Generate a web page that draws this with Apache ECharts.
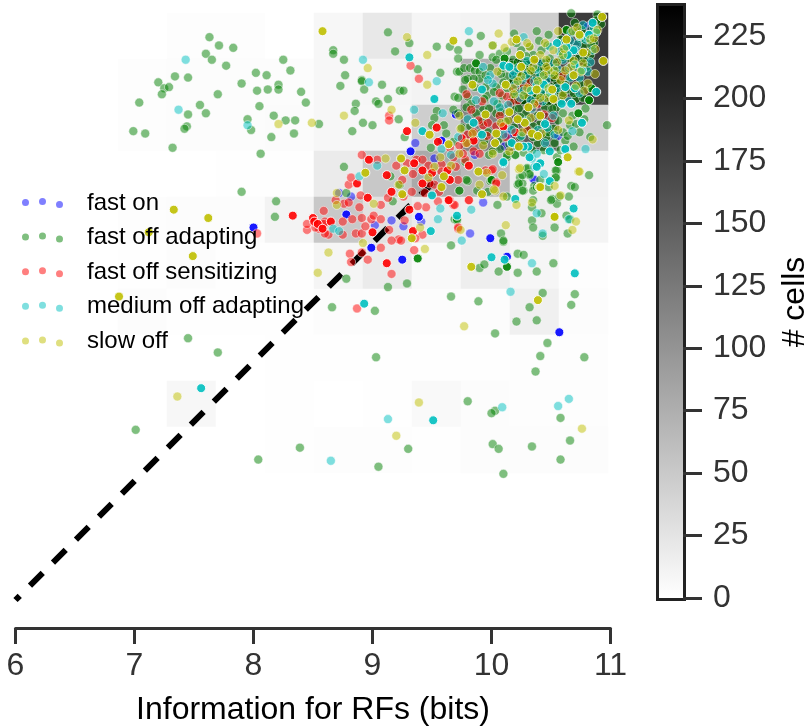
<!DOCTYPE html>
<html><head><meta charset="utf-8">
<style>html,body{margin:0;padding:0;background:#fff}#c{width:807px;height:727px}</style>
<script src="https://cdn.jsdelivr.net/npm/echarts@6/dist/echarts.min.js"></script>
</head><body><div id="c"></div>
<script>
const typeNames = ['fast on','fast off adapting','fast off sensitizing','medium off adapting','slow off'];
const typeColors = ['#0000ff','#008000','#ff0000','#00bfbf','#bfbf00'];
const xTicks = [6,7,8,9,10,11];
const colorbarMax = 237;
// 2D histogram counts, top row first, left column first
const histCounts = [
 [0,2,2,0,7,21,9,11,46,181],
 [2,3,3,3,7,8,11,74,228,172],
 [2,3,3,4,7,7,46,116,150,42],
 [0,0,1,1,19,51,79,65,16,11],
 [2,3,3,11,51,28,19,16,16,10],
 [1,3,1,1,9,19,6,16,8,2],
 [3,1,1,1,3,3,3,3,14,3],
 [0,0,0,1,1,1,1,1,2,2],
 [0,7,0,1,0,1,6,3,2,2],
 [0,0,0,1,2,2,1,3,3,3]
];
const identity = [[6,6],[9.53,9.53]];
const fastOnLight = [[9.36,9.84],[8.82,9.39],[8.72,9.42],[9.02,9.15],[9.93,9.34],[9.41,9.18],[10.14,9.91],[10.46,10.06],[10.56,9.90],[10.35,9.54],[10.81,10.82],[9.82,9.08],[9.52,9.71],[9.86,9.74],[10.11,9.81],[9.26,9.14],[9.16,9.19],[10.36,9.53]];
const fastOnSolid = [[8.00,9.13],[9.25,8.86],[8.99,8.96],[10.57,8.25],[10.13,8.885],[9.58,9.86],[9.32,9.77],[9.70,10.08],[8.78,9.24],[9.39,9.22],[9.99,9.04]];
const adaptLight = [[7.63,10.73],[7.71,10.66],[7.83,10.64],[7.60,10.59],[7.65,10.54],[7.77,10.49],[8.25,10.54],[8.31,10.45],[7.34,10.40],[7.45,10.39],[7.20,10.35],[7.90,10.34],[8.02,10.43],[8.11,10.41],[8.21,10.33],[8.21,10.29],[8.12,10.29],[8.03,10.28],[7.25,10.30],[7.29,10.31],[7.23,10.25],[7.70,10.25],[8.40,10.27],[8.44,10.18],[7.04,10.18],[7.55,10.16],[8.05,10.15],[7.60,10.09],[7.45,10.08],[8.17,10.07],[7.95,10.04],[8.27,10.03],[8.35,10.03],[7.98,9.95],[7.44,9.98],[7.42,9.96],[6.99,9.94],[7.09,9.92],[8.34,9.92],[8.15,9.89],[7.32,9.80],[8.06,9.75],[8.55,10.00],[7.90,9.43],[8.19,9.35],[8.18,9.22],
[7.45,8.20],[7.70,8.08],[7.01,7.43],[8.04,7.18],[8.39,7.28],
[8.78,8.70],[8.66,8.46],[9.02,8.43],[9.13,8.63],[9.29,8.66],[9.66,8.98],[10.10,9.01],[9.90,8.79],[9.94,8.82],[10.06,8.76],[10.22,8.91],[10.27,8.90],[10.22,8.75],[10.38,8.76],[10.52,8.83],[9.66,8.55],[9.89,8.51],[10.43,8.58],[10.70,8.57],[10.67,8.48],[10.32,8.46],[10.21,8.34],[10.38,8.35],[10.03,8.24],[10.47,8.16],[10.41,8.05],[10.78,8.04],[10.37,7.92],[9.03,8.04],[9.80,7.67],[10.03,7.59],[10.00,7.57],[10.58,7.53],[10.66,7.34],[10.01,7.31],[10.06,7.27],[10.34,7.29],[10.58,7.18],[9.30,7.27],[9.05,7.12],[10.10,7.06],
[9.13,10.77],[9.31,10.68],[8.67,10.62],[8.67,10.59],[8.76,10.54],[9.19,10.61],[9.54,10.65],[9.65,10.65],[9.72,10.62],[9.81,10.68],[9.91,10.74],[10.01,10.66],[9.90,10.58],[9.72,10.55],[10.19,10.76],[10.38,10.78],[10.48,10.75],[10.67,10.93],[10.89,10.92],[9.38,10.46],[9.57,10.43],[8.77,10.41],[8.91,10.37],[8.91,10.36],[8.73,10.32],[9.08,10.33],[8.93,10.29],[9.23,10.28],[9.26,10.28],[9.13,10.21],[9.03,10.19],[9.05,10.17],[8.86,10.17],[8.85,10.11],[9.22,10.04],[8.92,10.01],[9.00,9.99],[8.83,9.94],[9.27,9.89],[9.60,9.99],[9.54,10.11],[9.52,10.05],[9.50,9.99],[9.68,10.12],[9.69,10.23],[9.72,10.22],[9.49,9.80],[8.76,9.64],[8.78,9.42],[10.97,9.99],[10.82,9.57],[10.83,9.89],
[10.67,9.48],[10.70,9.47],[10.65,9.39],[10.51,9.37],[10.55,9.33],[10.34,9.19],[10.35,9.13],[10.53,9.13],[10.63,9.23],[10.66,9.20],[10.64,9.08],[10.42,9.25],[10.35,9.36],[10.34,9.30],[10.43,9.06],[10.08,9.08],[10.10,9.02],[10.05,9.32],[10.13,9.39],[10.24,9.55],[10.22,9.49],[10.27,9.44],[10.32,9.57],[10.30,9.62],[10.36,9.48],[10.26,9.50],[10.41,9.53],[10.55,9.61],[10.54,9.55],[10.48,9.47],[10.57,9.39],[9.73,9.44],[9.80,9.52],[9.88,9.44],[9.99,9.52],[9.78,9.68],[9.98,9.74],[10.13,9.72],[10.20,9.74],[9.69,9.20],[9.71,9.19],
[9.71,10.44],[9.73,10.44],[9.77,10.47],[9.82,10.47],[9.86,10.45],[9.90,10.44],[9.90,10.38],[9.80,10.38],[9.78,10.37],[9.86,10.31],[9.80,10.23],[9.83,10.17],[9.79,10.14],[9.93,10.12],[10.01,10.56],[10.07,10.59],[10.04,10.54],[10.13,10.61],[10.18,10.54],[10.25,10.62],[10.35,10.58],[10.42,10.62],[10.49,10.55],[10.32,10.65],[10.21,10.68],[10.71,10.77],[10.86,10.68],[10.80,10.48],[10.63,10.40],[10.57,10.42],[10.55,10.34],[10.60,10.26],[10.71,10.21],[10.42,10.44],[10.29,10.44],[10.21,10.38],[10.13,10.40],[10.08,10.42],[10.04,10.31],[10.13,10.30],[10.18,10.23],[10.27,10.20],[10.45,10.14],[10.55,10.14],[10.46,10.06],[10.60,10.09],[10.66,9.99],[10.71,10.00],[10.60,9.93],[10.52,9.96],[10.41,10.00],[10.46,9.89],[10.39,9.84],[10.53,9.84],[10.62,9.86],[10.69,9.81],[10.55,9.72],[10.35,9.89],[10.24,9.89],[10.13,9.74],[10.20,9.74],[10.07,9.79],[10.01,9.77],[9.94,9.86],[10.04,10.09],[9.90,9.92],[10.35,9.98],[10.29,10.09],[9.96,10.24],[10.18,10.12],[10.24,10.06],
[10.30,9.63],[10.32,9.58],[10.26,9.57],[10.23,9.50],[10.26,9.44],[10.35,9.44],[10.38,9.47],[10.54,9.61],[10.54,9.55],[10.50,9.36],[9.73,9.44],[9.79,9.53],[9.97,9.43],[9.15,9.56],[9.17,9.35],[9.23,9.49],[9.71,9.20],
[10.09,10.47],[10.16,10.47],[10.23,10.43],[10.31,10.51],[10.38,10.39],[10.45,10.51],[10.52,10.47],[10.59,10.56],[10.66,10.63],[10.73,10.55],[10.83,10.58],[10.78,10.66],[10.92,10.84],[10.84,10.79],[10.58,10.71],[10.47,10.66],[10.40,10.70],[10.29,10.57],[10.17,10.35],[10.26,10.33],[10.34,10.30],[10.42,10.25],[10.50,10.31],[10.58,10.19],[10.64,10.29],[10.75,10.33],[10.79,10.13],[10.68,10.07],[10.51,10.13],[10.39,10.07],[10.31,9.95],[10.19,9.97],[10.12,10.02],[10.05,10.17],[9.98,10.13],[9.92,10.02],[9.97,9.93],[10.06,9.87],[10.15,9.83],[10.27,9.76],[10.34,9.78],[10.44,9.78],[10.58,9.78],[10.48,9.93],[10.56,10.03],[10.64,9.90],[10.74,9.93],[10.78,10.04],[9.85,10.38],[9.95,10.31],[10.10,10.35],[9.76,10.29],[9.72,10.09],[9.62,9.92],[9.68,9.85],[9.75,9.97],[9.82,9.98],[10.09,10.24],[10.37,10.21],[10.23,10.13],
[10.18,10.50],[10.22,10.52],[10.28,10.48],[10.34,10.44],[10.40,10.47],[10.46,10.42],[10.52,10.39],[10.54,10.27],[10.48,10.19],[10.40,10.30],[10.31,10.38],[10.24,10.29],[10.19,10.20],[10.30,10.24],[10.44,10.34],[10.37,10.26],[10.53,10.22],[10.26,10.50],[10.41,10.36],
[10.60,10.60],[10.66,10.55],[10.72,10.47],[10.78,10.55],[10.84,10.66],[10.75,10.72],[10.88,10.87],[10.70,10.85],[10.76,10.79],[10.62,10.33],[10.69,10.26],[10.77,10.22],
[9.99,10.47],[9.95,10.41],[10.02,10.27],[9.87,10.09],[9.94,10.21],[10.08,10.10]];
const adaptSolid = [[9.38,8.87],[10.13,8.80],[9.87,10.51],[10.11,10.55],[10.63,10.79],[10.84,10.30],[10.82,10.20],[10.73,10.09],[10.56,9.68],[10.00,9.53]];
const sensLight = [[8.03,9.08],[8.81,8.91],[8.91,8.92],[8.96,8.86],[8.82,8.84],[9.07,8.96],[9.35,8.94],[9.16,8.74],[8.87,8.45],
[8.45,9.11],[8.45,9.16],[8.55,9.12],[8.52,9.13],[8.59,9.27],[8.60,9.18],[8.59,9.16],[8.63,9.07],[8.60,9.08],[8.75,9.18],[8.75,9.07],[8.76,9.33],[8.80,9.34],[8.83,9.20],[8.91,9.21],[8.86,9.08],[8.91,9.08],[8.99,9.20],[9.01,9.23],[9.07,9.20],[8.94,9.14],[8.90,9.40],[8.80,9.49],[8.82,9.55],[8.91,9.74],[9.04,9.70],[9.13,9.38],[9.20,9.65],
[9.37,9.70],[9.42,9.70],[9.47,9.65],[9.34,9.58],[9.52,9.49],[9.72,9.53],[9.78,9.70],[9.85,9.77],[9.79,9.84],[9.85,9.93],[9.93,9.99],[9.97,10.01],[9.76,9.75],[9.39,10.38],[9.32,10.49],[9.14,10.07],[9.14,10.03],[9.79,10.25],[9.83,10.12],[9.92,10.19],[10.04,9.51],[9.95,9.61],[10.00,9.61],[9.68,9.32],[9.81,9.36],[9.72,9.12],[9.55,9.35],[9.45,9.30],[9.38,9.31],[9.26,9.39],[9.14,9.11],[9.22,9.03],[9.16,9.02],[9.24,9.02],[9.42,9.07],[9.36,9.04],[9.27,9.19],
[10.13,10.23],[10.07,10.26],[10.20,10.30],[10.32,10.35],[10.39,10.17],[10.22,10.20],[10.35,10.14],[10.51,10.05],[10.66,10.48],[10.60,10.40],[10.07,10.07],[10.04,9.98],[10.01,9.62],[10.04,9.50],[9.81,9.36],[9.72,9.13],[9.69,9.32],[9.65,9.36],
[10.27,10.32],[10.16,10.18],[10.44,10.08],[10.30,9.95],[10.12,9.89],[9.96,9.90],[9.89,10.03],[9.90,9.75],[9.68,9.72],[9.58,9.66],[9.48,9.50],[9.58,9.60],[9.70,9.64],[9.73,9.82],[9.80,9.91],[9.65,9.80],[9.29,9.67],[9.25,9.53],[9.33,9.43],[9.07,9.32],[8.89,9.30],[8.69,9.36],[9.44,9.42],[9.56,9.43]];
const sensSolid = [[8.33,9.23],[9.12,8.83],[8.50,9.21],[8.51,9.18],[8.54,9.16],[8.58,9.12],[8.65,9.18],[9.00,9.09],[8.96,9.38],[8.87,9.50],[8.97,9.70],[9.12,9.57],[9.16,9.43],[9.35,9.67],[9.42,9.61],[9.50,9.59],[9.42,9.50],[9.63,9.61],[9.65,9.53],[9.81,9.65],[9.85,9.86],[9.75,9.88],[10.10,9.98],[10.20,9.93],[9.54,9.97],[9.29,9.94],[9.55,9.85],[9.64,9.36],[9.31,9.28],[9.34,9.10]];
const mediumLight = [[7.43,10.54],[7.37,10.12],[7.95,9.99],[10.34,8.83],[10.16,8.59],[10.09,7.62],[10.56,7.63],[10.65,7.69],[9.13,7.52],[8.65,7.17],[9.75,9.02],[9.81,10.78],[10.27,10.73],[8.92,10.54],[8.97,10.35],[9.54,10.36],[9.35,10.12],[9.59,10.09],[10.79,9.79],[9.83,9.28],[10.76,10.01],[10.62,9.78],[10.48,9.52],[10.65,9.20],[10.38,9.25],[10.43,9.08],[10.41,9.67],[10.36,9.64],[10.34,9.71],[10.22,9.81],[9.04,9.65],[8.89,9.56],[10.52,10.51],[10.01,10.34],[9.99,10.41],[9.87,10.20],[10.07,10.14],[9.55,9.20],[9.57,9.29],[8.67,9.12],[8.72,9.10],
[10.19,10.44],[10.26,10.37],[10.36,10.36],[10.41,10.41],[10.47,10.31],[10.55,10.47],[10.60,10.54],[10.66,10.39],[10.74,10.39],[10.81,10.44],[10.85,10.62],[10.79,10.71],[10.72,10.67],[10.66,10.70],[10.57,10.61],[10.49,10.65],[10.42,10.52],[10.30,10.53],[10.34,10.13],[10.43,10.19],[10.52,10.07],[10.47,9.97],[10.39,9.95],[10.30,10.03],[10.21,10.26],[10.14,10.16],[10.02,10.19],[9.97,10.37],[9.93,10.48],[10.10,9.91],[10.17,9.95],[10.25,9.90],[10.38,9.75],[10.45,9.84],[10.53,9.91],[10.68,9.94],[10.44,9.58],[9.72,9.89],[9.80,10.04],[9.66,9.74],[9.58,9.79],
[10.20,10.33],[10.29,10.41],[10.37,10.46],[10.46,10.37],[10.50,10.43],[10.55,10.30],[10.43,10.27],[10.33,10.20],[10.24,10.22],[10.18,10.41],[10.27,10.28],[10.38,10.33],[10.51,10.24],[10.22,10.47],
[10.65,10.47],[10.71,10.62],[10.77,10.83],[10.81,10.72],[10.67,10.77],[10.60,10.68],[10.83,10.52],[10.74,10.26],[10.65,10.19],[10.86,10.81]];
const mediumSolid = [[7.56,7.78],[10.00,8.88],[10.11,8.86],[10.70,8.745],[8.93,8.49],[9.51,7.51],[10.10,9.67],[10.20,9.37],[10.69,9.29],[10.88,10.77],[10.85,10.85],[10.82,10.75],[10.74,10.74],[10.69,10.62],[10.70,10.50],[10.76,10.45],[10.64,10.58],[10.88,10.27],[10.59,10.17],[10.67,10.17],[10.44,10.33],[10.33,10.28],[10.10,10.49],[10.15,10.48],[9.92,10.29],[9.85,10.01],[9.92,9.91],[10.10,9.68],[10.17,9.84],[10.31,9.81],[9.52,10.21],[9.31,10.56],[9.42,9.94],[9.50,9.40],[9.71,9.23],[9.49,9.10],[10.62,9.79],[10.70,10.30],[10.76,10.01],[10.55,10.68],[10.63,10.65],[10.49,9.52],[10.41,9.67],[10.38,9.64],[10.32,9.72],[10.27,9.81],[10.62,10.31],[10.49,10.26],[10.45,10.00],[10.49,9.77]];
const slowLight = [[8.21,10.00],[8.49,10.01],[8.54,8.75],[7.36,7.71],[8.63,8.92],[9.44,8.95],[8.92,9.00],[9.77,8.30],[9.39,7.66],[9.20,7.38],[10.76,7.44],
[10.73,9.60],[10.23,9.62],[10.09,9.57],[9.90,9.49],[9.96,9.59],[10.03,9.44],[10.10,9.39],[10.21,9.32],[10.34,9.34],[10.53,9.48],[10.58,9.40],[10.71,9.18],[10.68,9.11],[10.12,9.15],[9.74,9.11],[10.85,9.87],
[9.29,10.73],[9.46,10.58],[8.96,10.47],[9.46,10.33],[10.06,10.76],[10.01,10.66],[10.32,10.65],[10.41,10.58],[10.46,10.54],[10.53,10.45],[10.60,10.58],[10.67,10.48],[8.76,10.07],[9.16,10.12],[9.36,10.01],[10.24,9.63],[9.11,9.71],[9.01,9.33],[8.70,9.32],[8.70,9.42],[10.74,9.60],[10.87,10.63],[10.87,10.42],[10.02,9.45],[9.40,9.13],[9.73,10.07],[9.22,9.49],[10.35,10.48],[9.79,9.84],[10.01,9.75],[9.57,9.72],[9.73,9.75],[10.58,10.37],[10.48,10.45],[10.52,10.62],[10.77,10.51],
[10.11,10.64],[10.17,10.69],[10.30,10.68],[10.45,10.68],[10.55,10.52],[10.62,10.45],[10.71,10.32],[10.81,10.34],[10.83,10.71],[10.89,10.79],[10.68,10.78],[10.56,10.78],[10.44,10.41],[10.36,10.17],[10.46,10.22],[10.27,10.24],[10.18,10.30],[10.08,10.01],[10.14,10.03],[10.26,9.93],[10.33,10.05],[10.42,9.92],[10.56,9.95],[10.65,10.03],[10.15,9.77],[9.93,9.82],[9.84,9.92],[9.74,9.96],[9.66,9.65],[9.52,9.64],[9.47,9.55],[10.05,10.44],
[10.19,10.25],[10.25,10.40],[10.33,10.45],[10.39,10.36],[10.48,10.30],[10.53,10.41],[10.41,10.22],[10.30,10.30],[10.22,10.36],[10.46,10.48],
[10.61,10.63],[10.69,10.53],[10.75,10.44],[10.80,10.60],[10.72,10.81],[10.86,10.72],[10.60,10.24],[10.78,10.28]];
const slowSolid = [[8.58,10.78],[7.33,9.28],[7.62,9.21],[7.12,9.09],[7.49,8.89],[6.87,8.55],[9.83,8.80],[10.39,8.52],[10.64,9.72],[10.40,9.47],[10.53,9.22],[9.92,9.41],[9.68,10.70],[9.84,10.33],[10.12,10.33],[10.38,10.29],[10.51,10.29],[10.52,10.21],[10.31,10.14],[10.15,10.10],[9.95,10.08],[10.24,10.58],[10.36,10.54],[10.25,10.48],[10.21,10.71],[10.74,10.75],[10.63,10.71],[10.77,10.60],[10.93,10.90],[10.94,10.53],[10.69,10.41],[10.41,10.07],[10.28,10.01],[10.22,10.04],[10.34,9.92],[10.39,9.90],[10.23,9.81],[10.04,9.92],[10.03,9.84],[9.64,9.83],[9.48,9.91],[9.24,9.71],[9.27,9.61],[8.94,9.59],[9.25,9.41],[9.58,9.47],[9.60,9.56],[9.89,9.60],[10.41,9.47],[10.53,9.22],[9.33,9.04]];

const lightSets = [fastOnLight, adaptLight, sensLight, mediumLight, slowLight];
const solidSets = [fastOnSolid, adaptSolid, sensSolid, mediumSolid, slowSolid];
const nCols = histCounts[0].length, nRows = histCounts.length;
const histData = [];
histCounts.forEach((row, r) => row.forEach((v, c) => histData.push([c, nRows - 1 - r, v])));

const threeDots = 'path://' + [[3.5,4.5],[20.5,3.5],[37.5,6.5]].map(([x,y]) =>
  `M${x-3.5} ${y}a3.5 3.5 0 1 0 7 0a3.5 3.5 0 1 0 -7 0Z`).join('');

const series = [
  {type:'heatmap', xAxisIndex:1, yAxisIndex:1, data:histData, silent:true, z:1, itemStyle:{borderWidth:0}},
  {type:'bar', xAxisIndex:2, yAxisIndex:2, data:[colorbarMax], barWidth:'100%', silent:true, z:2,
   itemStyle:{color:new echarts.graphic.LinearGradient(0,0,0,1,[{offset:0,color:'#000'},{offset:0.5,color:'#808080'},{offset:1,color:'#fff'}])}},
  {type:'line', xAxisIndex:0, yAxisIndex:0, data:identity, showSymbol:false, silent:true, z:3, clip:false,
   lineStyle:{color:'#000', width:6, type:[18,14.5], dashOffset:12, cap:'butt'}}
];
typeNames.forEach((name, i) => {
  series.push({type:'scatter', name, xAxisIndex:0, yAxisIndex:0, data:lightSets[i], symbolSize:9, z:4, silent:true,
    itemStyle:{color:typeColors[i], opacity:0.5, borderColor:'#fff', borderWidth:1}});
  series.push({type:'scatter', name:name+' (stacked)', xAxisIndex:0, yAxisIndex:0, data:solidSets[i], symbolSize:9, z:4, silent:true,
    itemStyle:{color:typeColors[i], opacity:0.9, borderColor:'#fff', borderWidth:1}});
});

const chart = echarts.init(document.getElementById('c'), null, {renderer:'canvas'});
const F = 'Liberation Sans';
chart.setOption({
  animation:false, backgroundColor:'#fff', textStyle:{fontFamily:F},
  grid:[
    {left:15.5, width:595, top:5, height:595, outerBoundsMode:'none'},
    {left:118, width:490, top:13, height:460, outerBoundsMode:'none'},
    {left:659, width:24, top:6, height:592, show:true, borderColor:'#222', borderWidth:6, backgroundColor:'#fff', outerBoundsMode:'none'}
  ],
  xAxis:[
    {type:'value', gridIndex:0, min:6, max:11, interval:1, offset:28, position:'bottom',
     splitLine:{show:false}, axisLine:{show:true, onZero:false, lineStyle:{color:'#333', width:3}},
     axisTick:{show:true, length:16, lineStyle:{color:'#333', width:3}},
     axisLabel:{color:'#333', fontSize:32, margin:22, fontFamily:F, formatter:v=>xTicks.includes(v)?String(v):''},
     name:'Information for RFs (bits)', nameLocation:'middle', nameGap:66,
     nameTextStyle:{color:'#000', fontSize:32, fontFamily:F}},
    {type:'category', gridIndex:1, data:Array.from({length:nCols},(_,i)=>i), show:false},
    {type:'category', gridIndex:2, data:['cells'], show:false}
  ],
  yAxis:[
    {type:'value', gridIndex:0, min:6, max:11, show:false},
    {type:'category', gridIndex:1, data:Array.from({length:nRows},(_,i)=>i), show:false},
    {type:'value', gridIndex:2, min:0, max:colorbarMax, interval:25, position:'right',
     splitLine:{show:false}, axisLine:{show:false},
     axisTick:{show:true, length:19, lineStyle:{color:'#333', width:3}},
     axisLabel:{color:'#333', fontSize:32, margin:30, fontFamily:F, showMaxLabel:false},
     name:'# cells', nameLocation:'middle', nameRotate:90, nameGap:96,
     nameTextStyle:{color:'#000', fontSize:32, fontFamily:F}}
  ],
  visualMap:{show:false, seriesIndex:0, dimension:2, min:0, max:colorbarMax, inRange:{color:['#ffffff','#808080','#000000']}},
  legend:{data:typeNames, orient:'vertical', left:22, top:191, icon:threeDots, itemWidth:41, itemHeight:10,
    itemGap:10.6, selectedMode:false, z:10, padding:0,
    itemStyle:{borderWidth:0},
    textStyle:{color:'#000', fontSize:24, fontFamily:F, lineHeight:24, padding:[0,0,0,19]}},
  series
});
</script></body></html>
